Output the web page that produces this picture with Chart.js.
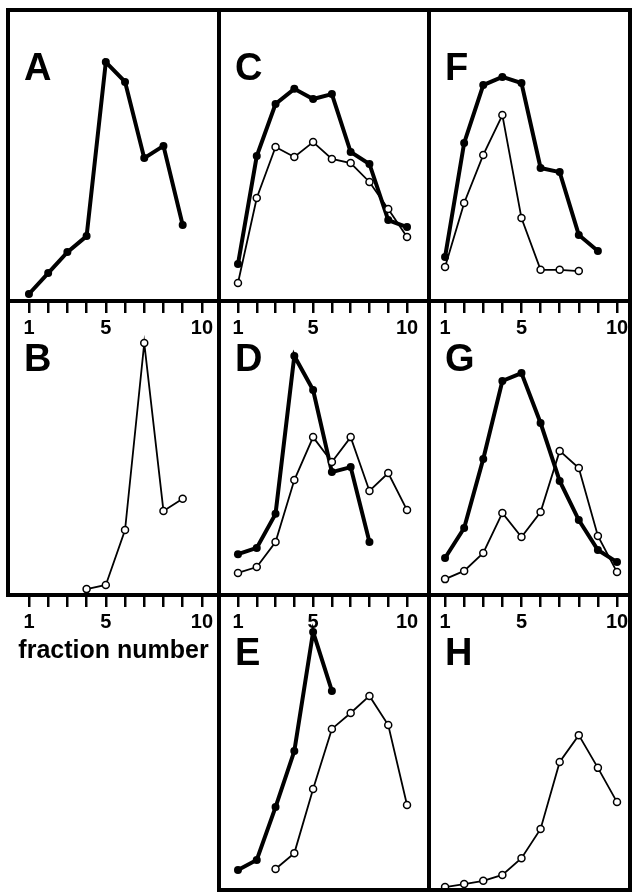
<!DOCTYPE html>
<html>
<head>
<meta charset="utf-8">
<script src="https://cdn.jsdelivr.net/npm/chart.js@4.4.0/dist/chart.umd.min.js"></script>
<style>
  body { margin: 0; background: #fff; }
  #fig { position: relative; width: 633px; height: 893px; overflow: hidden; background: #fff; }
  #fig canvas { position: absolute; }
</style>
</head>
<body>
<div id="fig"></div>
<script>
// fraction numbers on the x axis and the labelled ticks
const fractions = [1, 2, 3, 4, 5, 6, 7, 8, 9, 10];
const tickLabels = [1, 5, 10];

// values per fraction (null = not measured), filled dots = thick line, open dots = thin line
const aFilled = [2.4, 9.6, 16.8, 22.3, 82.1, 75.3, 49.1, 53.3, 26.1, null];
const bOpen   = [null, null, null, 2.0, 3.4, 22.1, 85.7, 28.6, 32.7, null];
const cFilled = [12.7, 49.8, 67.7, 72.9, 69.4, 71.1, 51.2, 47.1, 27.8, 25.4];
const cOpen   = [6.2, 35.4, 52.9, 49.5, 54.6, 48.8, 47.4, 40.9, 31.6, 22.0];
const dFilled = [13.9, 16.0, 27.6, 81.3, 69.7, 41.8, 43.5, 18.0, null, null];
const dOpen   = [7.5, 9.5, 18.0, 39.1, 53.7, 45.2, 53.7, 35.4, 41.5, 28.9];
const eFilled = [6.8, 10.2, 28.1, 47.1, 87.5, 67.5, null, null, null, null];
const eOpen   = [null, null, 7.1, 12.5, 34.2, 54.6, 60.0, 65.8, 55.9, 28.8];
const fFilled = [15.1, 54.3, 74.2, 77.0, 74.9, 45.7, 44.3, 22.7, 17.2, null];
const fOpen   = [11.7, 33.7, 50.2, 63.9, 28.5, 10.7, 10.7, 10.3, null, null];
const gFilled = [12.6, 22.8, 46.3, 72.8, 75.5, 58.5, 38.8, 25.5, 15.3, 11.2];
const gOpen   = [5.4, 8.2, 14.3, 27.9, 19.7, 28.2, 49.0, 43.2, 20.1, 7.8];
const hOpen   = [1.0, 2.0, 3.1, 5.1, 10.8, 20.7, 43.4, 52.5, 41.4, 29.8];

// page layout of the grid of panels
const colLeft = [8, 219, 429];
const colRight = [219, 429, 630];
const rowTop = [10, 301, 595];
const rowBottom = [301, 595, 890];
const xRanges = [[-0.09, 10.89], [-0.01, 11.17], [0.16, 10.68]];
const pad = 6;

const panels = [
    { letter: "A", col: 0, row: 0, filled: aFilled, open: null, ticks: true },
    { letter: "B", col: 0, row: 1, filled: null, open: bOpen, ticks: true, note: "fraction number" },
    { letter: "C", col: 1, row: 0, filled: cFilled, open: cOpen, ticks: true },
    { letter: "D", col: 1, row: 1, filled: dFilled, open: dOpen, ticks: true },
    { letter: "E", col: 1, row: 2, filled: eFilled, open: eOpen, ticks: false },
    { letter: "F", col: 2, row: 0, filled: fFilled, open: fOpen, ticks: true },
    { letter: "G", col: 2, row: 1, filled: gFilled, open: gOpen, ticks: true },
    { letter: "H", col: 2, row: 2, filled: null, open: hOpen, ticks: false }
];

function toPoints(values) {
    const pts = [];
    values.forEach((v, i) => {
        if (v !== null) pts.push({ x: fractions[i], y: v });
    });
    return pts;
}

// frame around the panel, big letter and the axis caption
const panelPlugin = {
    id: "panel",
    afterDraw(chart, args, opts) {
        const ctx = chart.ctx;
        const a = chart.chartArea;
        ctx.save();
        ctx.strokeStyle = "#000";
        ctx.lineWidth = 4;
        ctx.strokeRect(a.left, a.top, a.right - a.left, a.bottom - a.top);
        ctx.fillStyle = "#000";
        ctx.font = "bold 38px 'Liberation Sans'";
        ctx.textAlign = "left";
        ctx.textBaseline = "alphabetic";
        ctx.fillText(opts.letter, a.left + 16, a.top + 70);
        if (opts.note) {
            ctx.font = "bold 25px 'Liberation Sans'";
            ctx.textAlign = "center";
            ctx.fillText(opts.note, (a.left + a.right) / 2, a.bottom + 63);
        }
        ctx.restore();
    }
};

const fig = document.getElementById("fig");

panels.forEach(p => {
    const w = colRight[p.col] - colLeft[p.col];
    const h = rowBottom[p.row] - rowTop[p.row];
    const axisH = p.ticks ? (p.note ? 80 : 42) : 0;
    const canvas = document.createElement("canvas");
    canvas.width = w + 2 * pad;
    canvas.height = h + pad + (p.ticks ? axisH : pad);
    canvas.style.left = (colLeft[p.col] - pad) + "px";
    canvas.style.top = (rowTop[p.row] - pad) + "px";
    fig.appendChild(canvas);

    const datasets = [];
    if (p.open) {
        datasets.push({
            data: toPoints(p.open),
            borderColor: "#000",
            borderWidth: 1.8,
            pointRadius: 3.5,
            pointBackgroundColor: "#fff",
            pointBorderColor: "#000",
            pointBorderWidth: 1.5,
            tension: 0
        });
    }
    if (p.filled) {
        datasets.push({
            data: toPoints(p.filled),
            borderColor: "#000",
            borderWidth: 4,
            pointRadius: 4,
            pointBackgroundColor: "#000",
            pointBorderColor: "#000",
            pointBorderWidth: 0,
            tension: 0
        });
    }

    new Chart(canvas, {
        type: "line",
        data: { datasets },
        plugins: [panelPlugin],
        options: {
            responsive: false,
            animation: false,
            clip: false,
            layout: { padding: { left: pad, right: pad, top: pad, bottom: p.ticks ? 0 : pad } },
            plugins: {
                legend: { display: false },
                tooltip: { enabled: false },
                panel: { letter: p.letter, note: p.note }
            },
            scales: {
                x: {
                    type: "linear",
                    display: p.ticks,
                    min: xRanges[p.col][0],
                    max: xRanges[p.col][1],
                    afterBuildTicks: s => { s.ticks = fractions.map(v => ({ value: v })); },
                    afterFit: s => { s.height = axisH; },
                    border: { display: false },
                    grid: {
                        drawOnChartArea: false,
                        drawTicks: true,
                        tickLength: 12,
                        lineWidth: 2.5,
                        color: "#000"
                    },
                    ticks: {
                        autoSkip: false,
                        maxRotation: 0,
                        padding: 3,
                        color: "#000",
                        font: { family: "Liberation Sans", weight: "bold", size: 20 },
                        callback: v => tickLabels.includes(v) ? String(v) : ""
                    }
                },
                y: { display: false, min: 0, max: 100 }
            }
        }
    });
});
</script>
</body>
</html>
